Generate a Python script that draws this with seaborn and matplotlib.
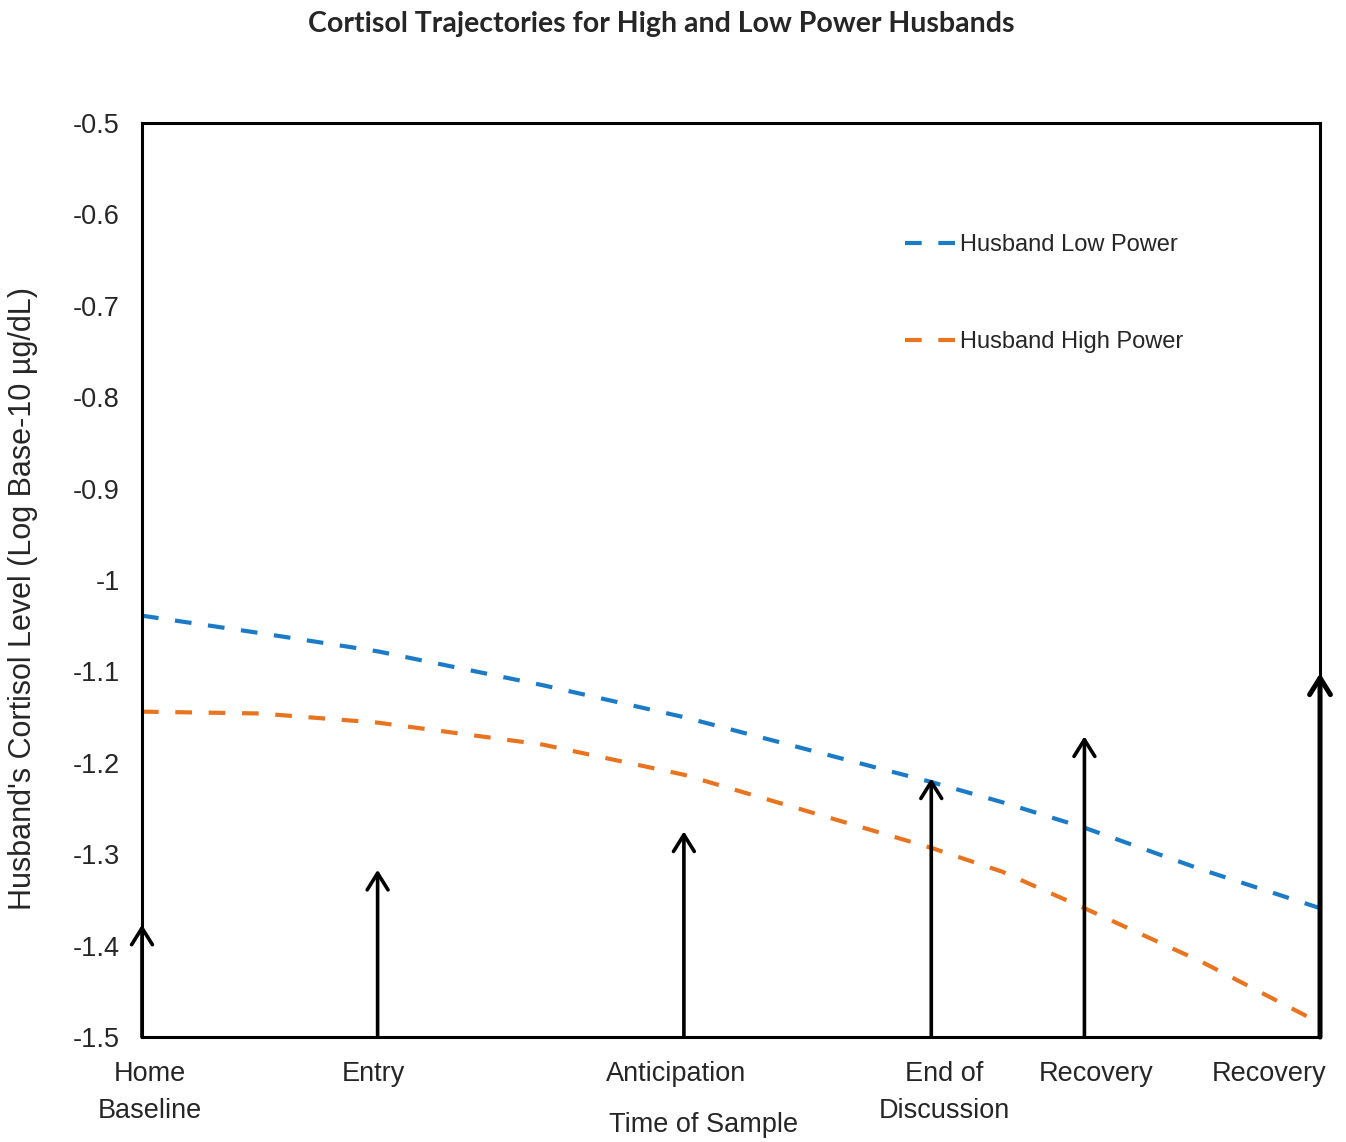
import matplotlib
matplotlib.use("Agg")
import matplotlib.pyplot as plt
import matplotlib.transforms as mtransforms
import numpy as np
import pandas as pd
import seaborn as sns
from matplotlib.ticker import FuncFormatter

# sample times (x scale 0-100) and the categories shown under the axis
sample_times = [0, 20, 46, 67, 80, 100]
sample_labels = ["Home\nBaseline", "Entry", "Anticipation", "End of\nDiscussion", "Recovery", "Recovery"]
arrow_tips = [-1.377, -1.317, -1.275, -1.217, -1.171, -1.102]

# fitted trajectories
low_time = [0, 10, 20, 34, 46, 67, 73, 80, 90, 100]
low_cortisol = [-1.039, -1.058, -1.078, -1.115, -1.150, -1.221, -1.243, -1.271, -1.317, -1.359]
high_time = [0, 10, 20, 34, 46, 67, 73, 80, 90, 99]
high_cortisol = [-1.144, -1.146, -1.156, -1.180, -1.213, -1.293, -1.319, -1.359, -1.418, -1.478]

groups = ["Husband Low Power", "Husband High Power"]
colors = {"Husband Low Power": "#1C7BC6", "Husband High Power": "#E8741F"}

df = pd.concat([
    pd.DataFrame({"time": low_time, "cortisol": low_cortisol, "group": groups[0]}),
    pd.DataFrame({"time": high_time, "cortisol": high_cortisol, "group": groups[1]}),
])

sns.set_style("white")
plt.rcParams["font.family"] = ["Liberation Sans", "DejaVu Sans"]

fig = plt.figure(figsize=(13.46, 11.42), dpi=100)
ax = fig.add_axes([0.1055, 0.0919, 0.8752, 0.8004])

sns.lineplot(
    data=df, x="time", y="cortisol", hue="group", style="group",
    hue_order=groups, style_order=groups, palette=colors,
    dashes={g: (4, 4) for g in groups}, lw=3, sort=False, ax=ax,
)

# sampling arrows
for i, (t, tip) in enumerate(zip(sample_times, arrow_tips)):
    lw = 3.6 if i == len(sample_times) - 1 else 2.6
    ax.annotate(
        "", xy=(t, tip), xytext=(t, -1.5),
        arrowprops=dict(arrowstyle="->, head_length=0.4, head_width=0.25",
                        lw=lw, color="black", mutation_scale=30,
                        shrinkA=0, shrinkB=0),
        annotation_clip=False,
    )

ax.set_xlim(0, 100)
ax.set_ylim(-1.5, -0.5)
ax.set_yticks(np.arange(-1.5, -0.45, 0.1))
ax.yaxis.set_major_formatter(FuncFormatter(lambda v, p: f"{round(v, 1):g}"))
ax.tick_params(axis="y", direction="in", length=6, width=2, pad=16, labelsize=19.5)

ax.set_xticks(sample_times)
ax.set_xticklabels(sample_labels)
ax.tick_params(axis="x", length=0, pad=17, labelsize=19.5)
# the text boxes in the original sit a little off the arrows
nudges = [8, -4, -8, 13, 12, 6]
for lab, dx in zip(ax.get_xticklabels(), nudges):
    lab.set_linespacing(1.55)
    lab.set_transform(lab.get_transform() + mtransforms.ScaledTranslation(dx / 100, 0, fig.dpi_scale_trans))
ax.get_xticklabels()[-1].set_ha("right")

for s in ax.spines.values():
    s.set_visible(True)
    s.set_color("black")
    s.set_linewidth(2.2)

ax.set_xlabel("Time of Sample", fontsize=19.5)
ax.xaxis.set_label_coords(0.477, -0.082)
ax.set_ylabel("Husband's Cortisol Level (Log Base-10 \u00b5g/dL)", fontsize=22)
ax.yaxis.set_label_coords(-0.088, 0.48)

handles, labels = ax.get_legend_handles_labels()
ax.legend(
    handles, labels, loc="upper left", bbox_to_anchor=(0.63, 0.902),
    frameon=False, fontsize=17, handlelength=2.15, handletextpad=0.15,
    labelspacing=3.2,
)

fig.text(0.491, 0.979, "Cortisol Trajectories for High and Low Power Husbands",
         ha="center", va="center", fontsize=20.5, fontweight="bold",
         family=["Lato", "DejaVu Sans"])

fig.savefig("out.png", dpi=100)
